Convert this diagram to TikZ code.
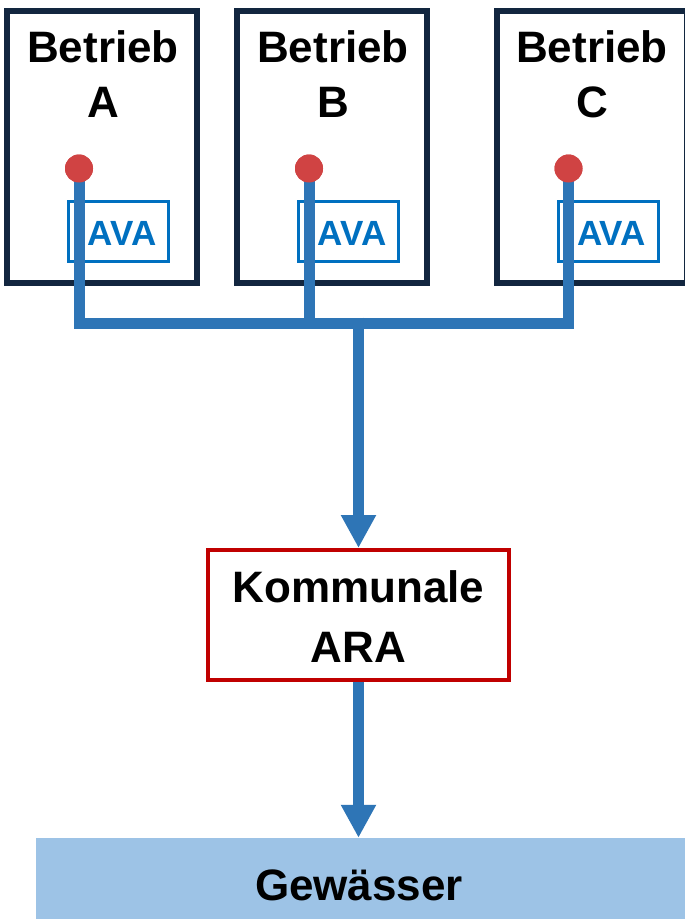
\documentclass[tikz,border=0pt]{standalone}
\usepackage{fontspec}
\setmainfont{Liberation Sans}
\usetikzlibrary{arrows.meta}
\definecolor{pipeblue}{HTML}{2E75B6}
\definecolor{avablue}{HTML}{0070C0}
\definecolor{navy}{HTML}{12263F}
\definecolor{arared}{HTML}{C00000}
\definecolor{dotred}{HTML}{D04343}
\definecolor{water}{HTML}{9DC3E6}
\tikzset{
  betrieb/.style={draw=navy, line width=6pt, fill=white, minimum width=190pt, minimum height=272pt, inner sep=0pt},
  avabox/.style={draw=avablue, line width=3pt, minimum width=100pt, minimum height=60pt, inner sep=0pt},
  avatext/.style={text=avablue, font=\fontsize{35}{40}\selectfont\bfseries, inner sep=0pt, anchor=base},
  lbl/.style={font=\fontsize{44}{55}\selectfont\bfseries, inner sep=0pt, anchor=base},
  dot/.style={circle, fill=dotred, minimum size=28pt, inner sep=0pt},
  pipe/.style={draw=pipeblue, line width=11pt, line join=miter, line cap=butt},
  flow/.style={pipe, -{Triangle[length=33pt, width=33pt]}},
  ara/.style={draw=arared, line width=4pt, fill=white, minimum width=301pt, minimum height=130pt, inner sep=0pt},
}
\begin{document}
\begin{tikzpicture}[x=1pt, y=-1pt]
\clip (0,0) rectangle (685,919);
\fill[white] (0,0) rectangle (685,919);
% plants
\node[betrieb] (boxA) at (102,147) {};
\node[betrieb] (boxB) at (332,147) {};
\node[betrieb] (boxC) at (592,147) {};
\node[lbl] (tA1) at (103,62) {Betrieb};
\node[lbl] (tA2) at (103,117) {A};
\node[lbl] (tB1) at (333,62) {Betrieb};
\node[lbl] (tB2) at (333,117) {B};
\node[lbl] (tC1) at (592,62) {Betrieb};
\node[lbl] (tC2) at (592,117) {C};
% AVA boxes
\node[avabox] (avaA) at (118.5,231.5) {};
\node[avabox] (avaB) at (348.5,231.5) {};
\node[avabox] (avaC) at (608,231.5) {};
\node[avatext] (avatA) at (122,245.5) {AVA};
\node[avatext] (avatB) at (352,245.5) {AVA};
\node[avatext] (avatC) at (611.5,245.5) {AVA};
% dots
\node[dot] (dotA) at (79,168.5) {};
\node[dot] (dotB) at (309,168.5) {};
\node[dot] (dotC) at (568.5,168.5) {};
% collector
\coordinate (jA) at (79,323);
\coordinate (jB) at (309,323);
\coordinate (jC) at (568.5,323);
\coordinate (jM) at (358.5,317.5);
% ARA and water
\node[ara] (ara) at (358.5,615) {};
\node[lbl] (araT1) at (358.5,602) {Kommunale};
\node[lbl] (araT2) at (358.5,662) {ARA};
\node[fill=water, minimum width=649pt, minimum height=81pt, inner sep=0pt] (water) at (360.5,878.5) {};
\node[lbl] (waterT) at (359,900) {Gewässer};
% pipes
\draw[pipe] (dotA.center) -- (jA) -- (jC) -- (dotC.center);
\draw[pipe] (dotB.center) -- (jB);
\draw[flow] (jM) -- (jM |- ara.north);
\draw[flow] (ara.south) -- (ara.south |- water.north);
% dots on top
\node[dot] at (dotA) {};
\node[dot] at (dotB) {};
\node[dot] at (dotC) {};
\end{tikzpicture}
\end{document}
